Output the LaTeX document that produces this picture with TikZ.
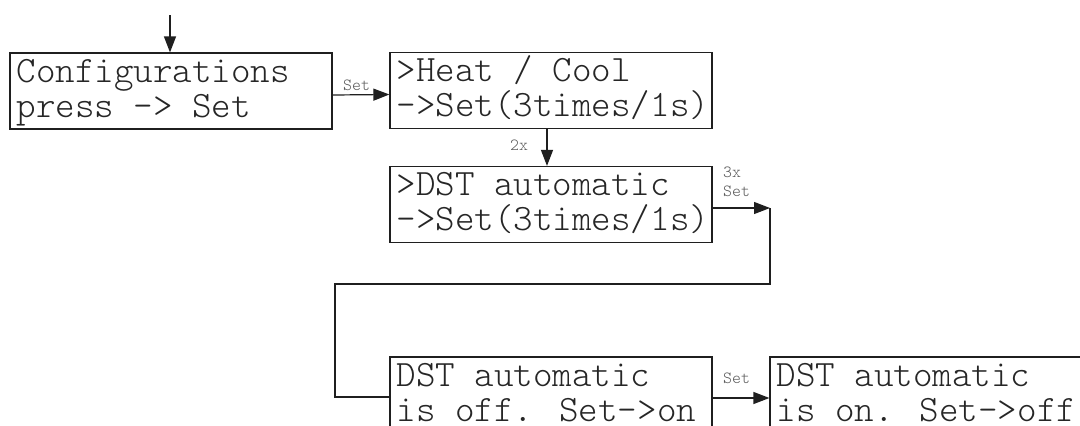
\documentclass[tikz,border=0pt]{standalone}
\usepackage{fontspec}
\newfontfamily\screenfont{Latin Modern Mono Light}
\usetikzlibrary{arrows.meta}
\tikzset{
  screen/.style={draw=black!88, line width=1.2pt, rectangle, inner sep=0pt,
                 minimum width=322pt, minimum height=76pt},
  line/.style={text=black!85, anchor=base west, inner sep=0pt,
               font=\screenfont\fontsize{37.2}{40}\selectfont},
  tag/.style={text=black!65, anchor=base west, inner sep=0pt,
              font=\screenfont\fontsize{17}{19}\selectfont},
  wire/.style={draw=black!88, line width=1.2pt},
  arr/.style={wire, -{Triangle[length=16pt,width=12pt]}}
}
\begin{document}
\begin{tikzpicture}[x=1pt,y=-1pt]
  \clip (0,0) rectangle (1080,426);
  \fill[white] (0,0) rectangle (1080,426);

  % menu screens
  \node[screen] (c1) at (171,91)  {};
  \node[screen] (c2) at (551,90.5) {};
  \node[screen] (c3) at (551,204.5) {};
  \node[screen] (c4) at (551,395) {};
  \node[screen] (c5) at (931,395) {};

  % screen texts, two lines each
  \node[line] (t1a) at ([xshift=7pt,yshift=-30pt]c1.north west) {Configurations};
  \node[line] (t1b) at ([xshift=7pt,yshift=-65pt]c1.north west) {press -> Set};
  \node[line] (t2a) at ([xshift=7pt,yshift=-30pt]c2.north west) {>Heat / Cool};
  \node[line] (t2b) at ([xshift=7pt,yshift=-65pt]c2.north west) {->Set(3times/1s)};
  \node[line] (t3a) at ([xshift=7pt,yshift=-30pt]c3.north west) {>DST automatic};
  \node[line] (t3b) at ([xshift=7pt,yshift=-65pt]c3.north west) {->Set(3times/1s)};
  \node[line] (t4a) at ([xshift=7pt,yshift=-30pt]c4.north west) {DST automatic};
  \node[line] (t4b) at ([xshift=7pt,yshift=-65pt]c4.north west) {is off. Set->on};
  \node[line] (t5a) at ([xshift=7pt,yshift=-30pt]c5.north west) {DST automatic};
  \node[line] (t5b) at ([xshift=7pt,yshift=-65pt]c5.north west) {is on. Set->off};

  % entry point
  \coordinate (in) at (170,15);
  \draw[arr] (in) -- (in |- c1.north);

  % transitions
  \draw[arr] ([yshift=-4pt]c1.east) -- ([yshift=-4pt]c2.west);
  \node[tag] (l1) at (343,90) {Set};

  \draw[arr] ([xshift=-4pt]c2.south) -- ([xshift=-4pt]c3.north);
  \node[tag] (l2) at (510,150) {2x};

  \coordinate (k1) at (770,208);
  \coordinate (k2) at (335,284);
  \draw[arr] ([yshift=-3.5pt]c3.east) -- (k1);
  \draw[wire] (k1) |- (k2) |- ([yshift=-2pt]c4.west);
  \node[tag] (l3a) at (723,177) {3x};
  \node[tag] (l3b) at (723,196) {Set};

  \draw[arr] ([yshift=-3pt]c4.east) -- ([yshift=-3pt]c5.west);
  \node[tag] (l4) at (723,383) {Set};
\end{tikzpicture}
\end{document}
